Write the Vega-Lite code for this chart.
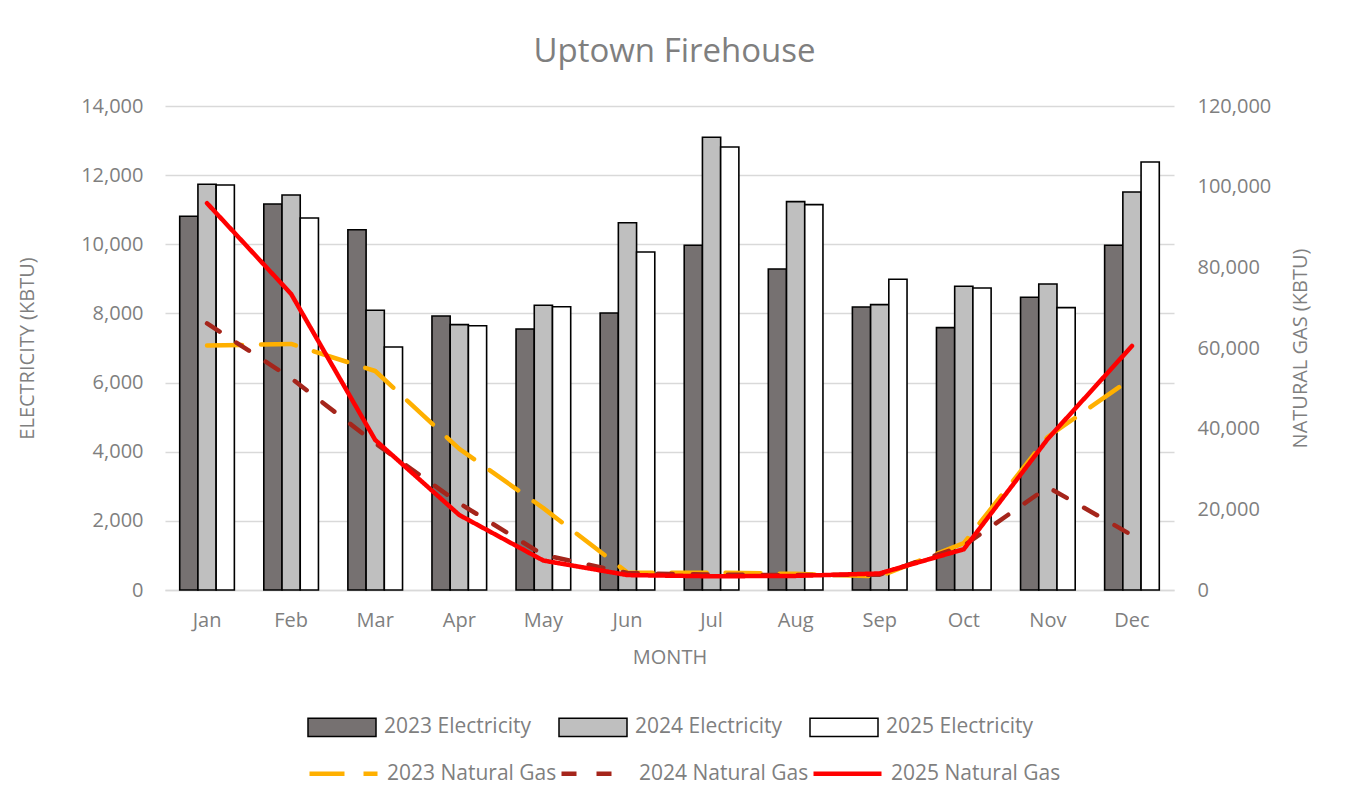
{
  "$schema": "https://vega.github.io/schema/vega-lite/v6.json",
  "width": 1009,
  "height": 484,
  "autosize": "none",
  "padding": {"left": 165, "top": 106, "right": 171, "bottom": 214},
  "background": "white",
  "config": {
    "font": "Open Sans",
    "view": {"stroke": null},
    "axis": {
      "labelColor": "#7f7f7f",
      "titleColor": "#7f7f7f",
      "labelFontSize": 20,
      "titleFontSize": 20,
      "titleFontWeight": "normal",
      "ticks": false,
      "domain": false,
      "gridColor": "#d9d9d9",
      "gridWidth": 1.5
    }
  },
  "title": {
    "text": "Uptown Firehouse",
    "fontSize": 33,
    "fontWeight": "normal",
    "color": "#7f7f7f",
    "frame": "group",
    "anchor": "middle",
    "dx": 5,
    "offset": 27
  },
  "datasets": {
    "elec": [
      {"month": "Jan", "series": "2023 Electricity", "kbtu": 10810},
      {"month": "Jan", "series": "2024 Electricity", "kbtu": 11735},
      {"month": "Jan", "series": "2025 Electricity", "kbtu": 11715},
      {"month": "Feb", "series": "2023 Electricity", "kbtu": 11165},
      {"month": "Feb", "series": "2024 Electricity", "kbtu": 11425},
      {"month": "Feb", "series": "2025 Electricity", "kbtu": 10760},
      {"month": "Mar", "series": "2023 Electricity", "kbtu": 10420},
      {"month": "Mar", "series": "2024 Electricity", "kbtu": 8090},
      {"month": "Mar", "series": "2025 Electricity", "kbtu": 7030},
      {"month": "Apr", "series": "2023 Electricity", "kbtu": 7925},
      {"month": "Apr", "series": "2024 Electricity", "kbtu": 7675},
      {"month": "Apr", "series": "2025 Electricity", "kbtu": 7645},
      {"month": "May", "series": "2023 Electricity", "kbtu": 7550},
      {"month": "May", "series": "2024 Electricity", "kbtu": 8235},
      {"month": "May", "series": "2025 Electricity", "kbtu": 8195},
      {"month": "Jun", "series": "2023 Electricity", "kbtu": 8012},
      {"month": "Jun", "series": "2024 Electricity", "kbtu": 10625},
      {"month": "Jun", "series": "2025 Electricity", "kbtu": 9777},
      {"month": "Jul", "series": "2023 Electricity", "kbtu": 9970},
      {"month": "Jul", "series": "2024 Electricity", "kbtu": 13094},
      {"month": "Jul", "series": "2025 Electricity", "kbtu": 12814},
      {"month": "Aug", "series": "2023 Electricity", "kbtu": 9285},
      {"month": "Aug", "series": "2024 Electricity", "kbtu": 11233},
      {"month": "Aug", "series": "2025 Electricity", "kbtu": 11146},
      {"month": "Sep", "series": "2023 Electricity", "kbtu": 8186},
      {"month": "Sep", "series": "2024 Electricity", "kbtu": 8254},
      {"month": "Sep", "series": "2025 Electricity", "kbtu": 8987},
      {"month": "Oct", "series": "2023 Electricity", "kbtu": 7588},
      {"month": "Oct", "series": "2024 Electricity", "kbtu": 8784},
      {"month": "Oct", "series": "2025 Electricity", "kbtu": 8736},
      {"month": "Nov", "series": "2023 Electricity", "kbtu": 8466},
      {"month": "Nov", "series": "2024 Electricity", "kbtu": 8851},
      {"month": "Nov", "series": "2025 Electricity", "kbtu": 8167},
      {"month": "Dec", "series": "2023 Electricity", "kbtu": 9970},
      {"month": "Dec", "series": "2024 Electricity", "kbtu": 11513},
      {"month": "Dec", "series": "2025 Electricity", "kbtu": 12380}
    ],
    "gas": [
      {"month": "Jan", "series": "2023 Natural Gas", "kbtu": 60600},
      {"month": "Feb", "series": "2023 Natural Gas", "kbtu": 61000},
      {"month": "Mar", "series": "2023 Natural Gas", "kbtu": 54300},
      {"month": "Apr", "series": "2023 Natural Gas", "kbtu": 35000},
      {"month": "May", "series": "2023 Natural Gas", "kbtu": 20300},
      {"month": "Jun", "series": "2023 Natural Gas", "kbtu": 4300},
      {"month": "Jul", "series": "2023 Natural Gas", "kbtu": 4300},
      {"month": "Aug", "series": "2023 Natural Gas", "kbtu": 4000},
      {"month": "Sep", "series": "2023 Natural Gas", "kbtu": 3400},
      {"month": "Oct", "series": "2023 Natural Gas", "kbtu": 11600},
      {"month": "Nov", "series": "2023 Natural Gas", "kbtu": 38000},
      {"month": "Dec", "series": "2023 Natural Gas", "kbtu": 52500},
      {"month": "Jan", "series": "2024 Natural Gas", "kbtu": 66100},
      {"month": "Feb", "series": "2024 Natural Gas", "kbtu": 52500},
      {"month": "Mar", "series": "2024 Natural Gas", "kbtu": 36400},
      {"month": "Apr", "series": "2024 Natural Gas", "kbtu": 21500},
      {"month": "May", "series": "2024 Natural Gas", "kbtu": 8700},
      {"month": "Jun", "series": "2024 Natural Gas", "kbtu": 4200},
      {"month": "Jul", "series": "2024 Natural Gas", "kbtu": 3800},
      {"month": "Aug", "series": "2024 Natural Gas", "kbtu": 3700},
      {"month": "Sep", "series": "2024 Natural Gas", "kbtu": 3800},
      {"month": "Oct", "series": "2024 Natural Gas", "kbtu": 11000},
      {"month": "Nov", "series": "2024 Natural Gas", "kbtu": 25500},
      {"month": "Dec", "series": "2024 Natural Gas", "kbtu": 13600},
      {"month": "Jan", "series": "2025 Natural Gas", "kbtu": 95900},
      {"month": "Feb", "series": "2025 Natural Gas", "kbtu": 73400},
      {"month": "Mar", "series": "2025 Natural Gas", "kbtu": 37200},
      {"month": "Apr", "series": "2025 Natural Gas", "kbtu": 18600},
      {"month": "May", "series": "2025 Natural Gas", "kbtu": 7300},
      {"month": "Jun", "series": "2025 Natural Gas", "kbtu": 3700},
      {"month": "Jul", "series": "2025 Natural Gas", "kbtu": 3400},
      {"month": "Aug", "series": "2025 Natural Gas", "kbtu": 3500},
      {"month": "Sep", "series": "2025 Natural Gas", "kbtu": 4100},
      {"month": "Oct", "series": "2025 Natural Gas", "kbtu": 10100},
      {"month": "Nov", "series": "2025 Natural Gas", "kbtu": 37500},
      {"month": "Dec", "series": "2025 Natural Gas", "kbtu": 60500}
    ]
  },
  "layer": [
    {
      "data": {"name": "elec"},
      "mark": {"type": "bar", "stroke": "black", "strokeWidth": 1.6},
      "encoding": {
        "x": {
          "field": "month",
          "type": "nominal",
          "sort": ["Jan", "Feb", "Mar", "Apr", "May", "Jun", "Jul", "Aug", "Sep", "Oct", "Nov", "Dec"],
          "scale": {"paddingInner": 0.35, "paddingOuter": 0.175},
          "axis": {
            "title": "MONTH",
            "labelAngle": 0,
            "labelPadding": 20,
            "titlePadding": 17,
            "domain": true,
            "domainColor": "#d9d9d9",
            "domainWidth": 1.5
          }
        },
        "xOffset": {"field": "series", "type": "nominal", "scale": {"paddingInner": 0, "paddingOuter": 0}},
        "y": {
          "field": "kbtu",
          "type": "quantitative",
          "scale": {"domain": [0, 14000]},
          "axis": {
            "title": "ELECTRICITY (KBTU)",
            "values": [0, 2000, 4000, 6000, 8000, 10000, 12000, 14000],
            "format": ",.0f",
            "grid": true,
            "labelPadding": 22,
            "titleX": -138,
            "titleBaseline": "middle"
          }
        },
        "fill": {
          "field": "series",
          "type": "nominal",
          "scale": {
            "domain": ["2023 Electricity", "2024 Electricity", "2025 Electricity"],
            "range": ["#767171", "#bfbfbf", "#ffffff"]
          },
          "legend": {
            "orient": "none",
            "legendX": 142,
            "legendY": 586,
            "direction": "horizontal",
            "columns": 3,
            "title": null,
            "padding": 0,
            "symbolType": "M-1,-0.27H1V0.27H-1Z",
            "symbolSize": 4624,
            "symbolStrokeColor": "black",
            "symbolStrokeWidth": 1.5,
            "labelFontSize": 21,
            "labelLimit": 300,
            "labelColor": "#7f7f7f",
            "labelOffset": 7,
            "columnPadding": 24
          }
        }
      }
    },
    {
      "data": {"name": "gas"},
      "mark": {"type": "line", "strokeCap": "round", "strokeJoin": "round"},
      "encoding": {
        "x": {
          "field": "month",
          "type": "nominal",
          "sort": ["Jan", "Feb", "Mar", "Apr", "May", "Jun", "Jul", "Aug", "Sep", "Oct", "Nov", "Dec"]
        },
        "y": {
          "field": "kbtu",
          "type": "quantitative",
          "scale": {"domain": [0, 120000]},
          "axis": {
            "orient": "right",
            "title": "NATURAL GAS (KBTU)",
            "values": [0, 20000, 40000, 60000, 80000, 100000, 120000],
            "format": ",.0f",
            "grid": false,
            "labelPadding": 23,
            "titleAngle": 270,
            "titleX": 126,
            "titleBaseline": "middle"
          }
        },
        "stroke": {
          "field": "series",
          "type": "nominal",
          "scale": {
            "domain": ["2023 Natural Gas", "2024 Natural Gas", "2025 Natural Gas"],
            "range": ["#ffb000", "#a5251b", "#ff0000"]
          },
          "legend": {
            "orient": "none",
            "legendX": 142,
            "legendY": 631,
            "direction": "horizontal",
            "columns": 3,
            "title": null,
            "padding": 0,
            "symbolType": "stroke",
            "symbolSize": 4624,
            "labelFontSize": 21,
            "labelLimit": 300,
            "labelColor": "#7f7f7f",
            "labelOffset": 7,
            "columnPadding": -5
          }
        },
        "strokeDash": {
          "field": "series",
          "type": "nominal",
          "scale": {
            "domain": ["2023 Natural Gas", "2024 Natural Gas", "2025 Natural Gas"],
            "range": [[35, 19], [15, 20], [1, 0]]
          },
          "legend": {
            "orient": "none",
            "legendX": 142,
            "legendY": 631,
            "direction": "horizontal",
            "columns": 3,
            "title": null,
            "padding": 0,
            "symbolType": "stroke",
            "symbolSize": 4624,
            "labelFontSize": 21,
            "labelLimit": 300,
            "labelColor": "#7f7f7f",
            "labelOffset": 7,
            "columnPadding": -5
          }
        },
        "strokeWidth": {
          "field": "series",
          "type": "ordinal",
          "scale": {
            "domain": ["2023 Natural Gas", "2024 Natural Gas", "2025 Natural Gas"],
            "range": [4.5, 4.5, 3]
          },
          "legend": {
            "orient": "none",
            "legendX": 142,
            "legendY": 631,
            "direction": "horizontal",
            "columns": 3,
            "title": null,
            "padding": 0,
            "symbolType": "stroke",
            "symbolSize": 4624,
            "labelFontSize": 21,
            "labelLimit": 300,
            "labelColor": "#7f7f7f",
            "labelOffset": 7,
            "columnPadding": -5
          }
        }
      }
    }
  ],
  "resolve": {"scale": {"y": "independent"}}
}
